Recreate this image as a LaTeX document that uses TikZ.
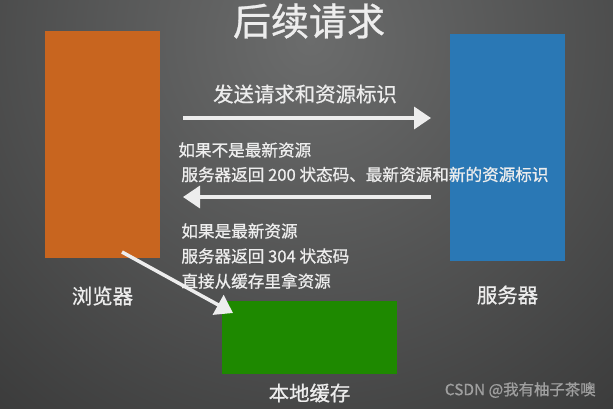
\documentclass[tikz,border=0pt]{standalone}
\usepackage{fontspec}
\setmainfont{Noto Sans CJK SC}[FakeBold=0.8]
\usetikzlibrary{arrows.meta}
\definecolor{bglight}{HTML}{6B6C6C}
\definecolor{bgdark}{HTML}{242424}
\definecolor{browsercol}{HTML}{C8651F}
\definecolor{servercol}{HTML}{2A78B5}
\definecolor{cachecol}{HTML}{1E8900}
\definecolor{chalk}{HTML}{EDEDED}
\begin{document}
\begin{tikzpicture}[x=0.5pt, y=-0.5pt,
  box/.style = {inner sep=0pt, outer sep=0pt},
  txt/.style = {text=chalk, inner sep=0pt, anchor=west, font=\fontsize{8.3pt}{10pt}\selectfont},
  boxlabel/.style = {text=chalk, inner sep=0pt, font=\fontsize{10.2pt}{12pt}\selectfont},
  chalkarrow/.style = {draw=chalk, line width=1.75pt, -{Triangle[length=8.5pt, width=11pt]}}]
\useasboundingbox (0,0) rectangle (613,408);
\begin{scope}
\clip (0,0) rectangle (613,408);
\shade[inner color=bglight, outer color=bgdark] (310,40) circle (720);
\end{scope}
\node[boxlabel, font=\fontsize{19pt}{22pt}\selectfont] (title) at (309,21) {后续请求};
\node[box, fill=browsercol, minimum width=57.5pt, minimum height=113.5pt] (browser) at (102.5,144.5) {};
\node[box, fill=servercol, minimum width=57.5pt, minimum height=113.5pt] (server) at (507.5,147.5) {};
\node[box, fill=cachecol, minimum width=87.5pt, minimum height=36.5pt] (cache) at (309.5,337.5) {};
\node[boxlabel] (browserlabel) at (102.5,296) {浏览器};
\node[boxlabel] (serverlabel) at (507.5,295) {服务器};
\node[boxlabel] (cachelabel) at (309.5,393) {本地缓存};
\node[boxlabel] (request) at (305,94) {发送请求和资源标识};
\node[txt] (t1) at (178,150) {如果不是最新资源};
\node[txt] (t2) at (181,174.5) {服务器返回 200 状态码、最新资源和新的资源标识};
\node[txt] (t3) at (181,231) {如果是最新资源};
\node[txt] (t4) at (181,256) {服务器返回 304 状态码};
\node[txt] (t5) at (181,281) {直接从缓存里拿资源};
\node[text=gray!75, inner sep=0pt, anchor=east, font=\fontsize{7.7pt}{9pt}\selectfont] (mark) at (596,390) {CSDN @我有柚子茶噢};
\coordinate (reqstart) at (183,118);
\coordinate (reqend) at (431,118);
\coordinate (respstart) at (431,197);
\coordinate (respend) at (183,197);
\coordinate (cachestart) at (122,252);
\coordinate (cacheend) at (233,313);
\draw[chalkarrow] (reqstart) -- (reqend);
\draw[chalkarrow] (respstart) -- (respend);
\draw[chalkarrow] (cachestart) -- (cacheend);
\end{tikzpicture}
\end{document}
